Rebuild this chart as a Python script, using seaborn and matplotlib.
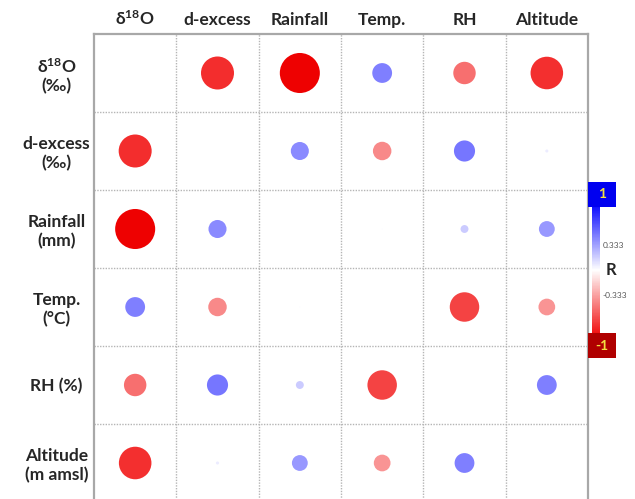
import numpy as np
import pandas as pd
import matplotlib
matplotlib.use('Agg')
import matplotlib.pyplot as plt
from matplotlib.colors import LinearSegmentedColormap, Normalize
from matplotlib.patches import Rectangle
import seaborn as sns

# Variables (column order = row order)
col_labels = ['δ$^{18}$O', 'd-excess', 'Rainfall', 'Temp.', 'RH', 'Altitude']
row_labels = ['δ$^{18}$O\n(‰)', 'd-excess\n(‰)', 'Rainfall\n(mm)', 'Temp.\n(°C)',
              'RH (%)', 'Altitude\n(m amsl)']

# Upper triangle of the correlation matrix, read row by row (estimated from the figure)
r_d18o = [-0.75, -0.91, 0.45, -0.51, -0.74]
r_dexcess = [0.41, -0.42, 0.48, 0.07]
r_rainfall = [0.02, 0.18, 0.36]
r_temp = [-0.67, -0.38]
r_rh = [0.45]

W, H = 635, 499


def fx(px):
    return px / W


def fy(py):
    return 1 - py / H


def build_long_df():
    n = len(col_labels)
    mat = np.full((n, n), np.nan)
    for i, row in enumerate([r_d18o, r_dexcess, r_rainfall, r_temp, r_rh]):
        for k, val in enumerate(row):
            j = i + 1 + k
            mat[i, j] = val
            mat[j, i] = val
    recs = []
    for i in range(n):
        for j in range(n):
            if i != j:
                recs.append({'x': j, 'y': i, 'r': mat[i, j]})
    df = pd.DataFrame(recs)
    df['area'] = df['r'] ** 2  # circle diameter proportional to |r|
    return df


df = build_long_df()

sns.set_style('white')
plt.rcParams['font.family'] = ['Lato', 'DejaVu Sans']
plt.rcParams['mathtext.default'] = 'regular'

cmap = LinearSegmentedColormap.from_list(
    'corr', [(0.0, '#b82424'), (0.045, '#f00000'), (0.5, '#ffffff'),
             (0.95, '#0000ff'), (1.0, '#1818c0')])

fig = plt.figure(figsize=(W / 100, H / 100), dpi=100)
ax = fig.add_axes([fx(94), fy(502), fx(588) - fx(94), fy(34) - fy(502)])

D = 44  # px diameter for |r| = 1
smax = (D * 0.72) ** 2
sns.scatterplot(data=df, x='x', y='y', hue='r', hue_norm=(-1, 1), palette=cmap,
                size='area', size_norm=(0, 1), sizes=(0, smax),
                linewidth=0, legend=False, ax=ax)

n = len(col_labels)
ax.set_xlim(-0.5, n - 0.5)
ax.set_ylim(n - 0.5, -0.5)
ax.set_xlabel('')
ax.set_ylabel('')

ax.set_xticks(range(n))
ax.set_xticklabels(col_labels, fontsize=12.5, fontweight='bold')
ax.set_yticks(range(n))
ax.set_yticklabels(row_labels, fontsize=12.5, fontweight='bold')
ax.xaxis.tick_top()
ax.tick_params(axis='x', length=0, pad=4)
ax.tick_params(axis='y', length=0, pad=27)
for lbl in ax.get_yticklabels():
    lbl.set_ha('center')
    lbl.set_multialignment('center')

# dotted cell grid
ax.set_xticks(np.arange(0.5, n - 0.5), minor=True)
ax.set_yticks(np.arange(0.5, n - 0.5), minor=True)
ax.tick_params(which='minor', length=0)
ax.grid(False)
ax.grid(which='minor', color='#b5b5b5', linestyle=(0, (1, 1)), linewidth=1)
for sp in ax.spines.values():
    sp.set_color('#a8a8a8')
    sp.set_linewidth(1.6)

# colour bar
cax = fig.add_axes([fx(592), fy(345), fx(600) - fx(592), fy(195) - fy(345)])
sm = plt.cm.ScalarMappable(norm=Normalize(-1, 1), cmap=cmap)
cb = fig.colorbar(sm, cax=cax)
cb.outline.set_visible(False)
cb.set_ticks([-0.333, 0.333])
cb.set_ticklabels(['-0.333', '0.333'])
cax.tick_params(length=0, labelsize=6, labelcolor='#555555', pad=2)
cax.text(2.4, 0.5, 'R', transform=cax.transAxes, ha='center', va='center',
         fontsize=12, fontweight='bold')

for label, top, face in [('1', 182, '#0000f0'), ('-1', 333, '#b00000')]:
    fig.add_artist(Rectangle((fx(588), fy(top + 25)), fx(616) - fx(588), 25 / H,
                             transform=fig.transFigure, facecolor=face,
                             edgecolor='none', clip_on=False))
    fig.text(fx(602), fy(top + 12.5), label, ha='center', va='center',
             color='#f2e040', fontsize=10, fontweight='bold')

fig.savefig('out.png', dpi=100)
